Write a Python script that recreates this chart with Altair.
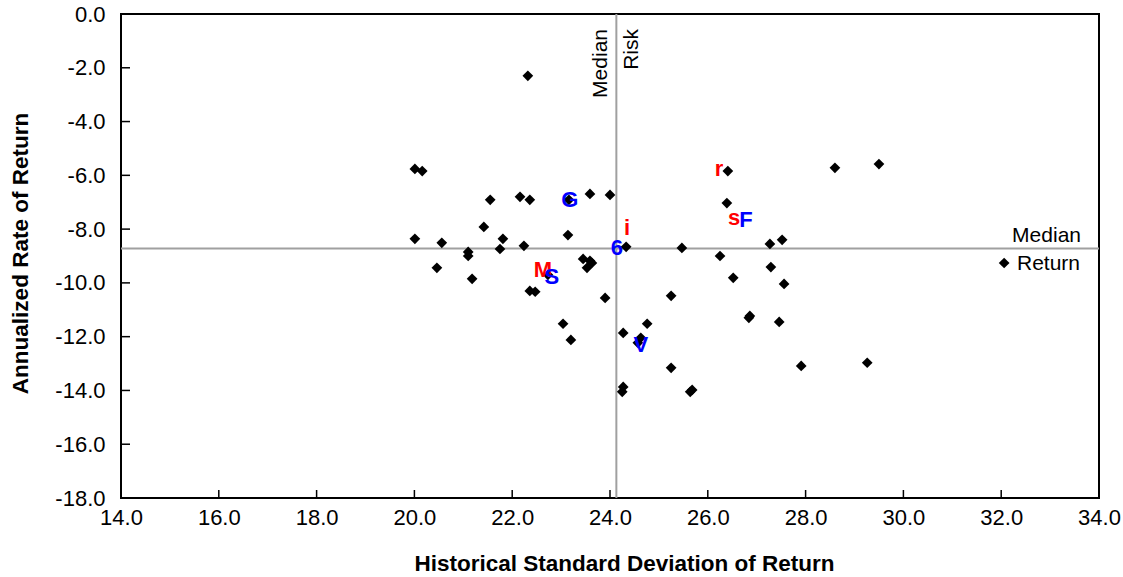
import altair as alt
import pandas as pd

# ---- data ----
risk = [22.32, 20.01, 20.16, 26.41, 28.60, 29.50, 23.16, 21.55, 22.16, 22.36,
        23.59, 24.00, 26.39, 21.42, 23.14, 20.01, 20.56, 21.81, 21.75, 21.10,
        21.10, 22.24, 24.33, 20.46, 21.18, 22.73, 22.36, 22.47, 23.45, 23.59,
        23.63, 23.53, 23.90, 23.04, 23.20, 24.27, 24.76, 24.63, 24.57, 25.25,
        24.27, 24.25, 25.68, 25.64, 25.47, 26.25, 26.52, 27.27, 27.52, 27.29,
        27.56, 25.25, 26.86, 26.84, 27.46, 27.91, 29.26, 32.06]
ret = [-2.30, -5.76, -5.84, -5.84, -5.72, -5.58, -6.91, -6.91, -6.80, -6.91,
       -6.69, -6.73, -7.03, -7.92, -8.22, -8.36, -8.51, -8.36, -8.74, -8.85,
       -9.00, -8.62, -8.66, -9.44, -9.85, -9.70, -10.30, -10.33, -9.11, -9.18,
       -9.26, -9.44, -10.56, -11.52, -12.12, -11.86, -11.52, -12.04, -12.23, -13.16,
       -13.87, -14.05, -13.98, -14.05, -8.70, -9.00, -9.81, -8.55, -8.40, -9.41,
       -10.04, -10.48, -11.23, -11.30, -11.45, -13.09, -12.97, -9.26]

label_text = ["r", "s", "F", "G", "i", "6", "M", "S", "V"]
label_risk = [26.23, 26.54, 26.78, 23.18, 24.35, 24.14, 22.63, 22.81, 24.63]
label_ret = [-5.76, -7.58, -7.66, -6.91, -7.96, -8.70, -9.52, -9.78, -12.30]
label_color = ["#FF0000", "#FF0000", "#0000FF", "#0000FF", "#FF0000",
               "#0000FF", "#FF0000", "#0000FF", "#0000FF"]

x_ticks = [14, 16, 18, 20, 22, 24, 26, 28, 30, 32, 34]
y_ticks = [0, -2, -4, -6, -8, -10, -12, -14, -16, -18]

median_risk = 24.13
median_return = -8.72

x_title = "Historical Standard Deviation of Return"
y_title = "Annualized Rate of Return"

# ---- layout ----
W, H = 978, 484
FONT = "Liberation Sans"
fmt = "(datum.value < 0 ? '-' : '') + format(abs(datum.value), '.1f')"

xs = alt.Scale(domain=[14, 34], nice=False, zero=False)
ys = alt.Scale(domain=[-18, 0], nice=False, zero=False)

x_axis = alt.Axis(title=x_title, values=x_ticks, labelExpr=fmt, ticks=False,
                  domain=False, grid=False, labelFontSize=22, labelPadding=9,
                  labelFlush=False, labelOverlap=False, labelBound=False,
                  labelColor="black", titleFontSize=22.5, titleFontWeight="bold",
                  titleColor="black", titleX=W / 2 + 14, titleY=65,
                  titleBaseline="middle")
y_axis = alt.Axis(title=y_title, values=y_ticks, labelExpr=fmt, ticks=False,
                  domain=False, grid=False, labelFontSize=22, labelPadding=16,
                  labelFlush=False, labelOverlap=False, labelBound=False,
                  labelColor="black", titleFontSize=22.5, titleFontWeight="bold",
                  titleColor="black", titleX=-101, titleY=H / 2 - 3,
                  titleAngle=270, titleBaseline="middle", titleAlign="center")

def X(field="risk"):
    return alt.X(f"{field}:Q", scale=xs, axis=x_axis)

def Y(field="ret"):
    return alt.Y(f"{field}:Q", scale=ys, axis=y_axis)

pts_df = pd.DataFrame({"risk": risk, "ret": ret})
lab_df = pd.DataFrame({"risk": label_risk, "ret": label_ret,
                       "txt": label_text, "col": label_color})
xt_df = pd.DataFrame({"risk": x_ticks})
yt_df = pd.DataFrame({"ret": y_ticks})
mr_df = pd.DataFrame({"risk": [median_risk]})
mret_df = pd.DataFrame({"ret": [median_return]})
mlab_df = pd.DataFrame({"risk": [34], "ret": [median_return]})
vlab_df = pd.DataFrame({"risk": [median_risk], "ret": [0]})

vline = alt.Chart(mr_df).mark_rule(color="#A0A0A0", strokeWidth=2).encode(x=X())
hline = alt.Chart(mret_df).mark_rule(color="#A0A0A0", strokeWidth=2).encode(y=Y())

xticks = alt.Chart(xt_df).mark_rule(color="black", strokeWidth=1.5).encode(
    x=X(), y=alt.value(H - 8), y2=alt.value(H))
yticks = alt.Chart(yt_df).mark_rule(color="black", strokeWidth=1.5).encode(
    y=Y(), x=alt.value(0), x2=alt.value(9))

points = alt.Chart(pts_df).mark_point(
    shape="diamond", filled=True, color="black", size=115, opacity=1
).encode(x=X(), y=Y())

labels = alt.Chart(lab_df).mark_text(
    font=FONT, fontSize=22, fontWeight="bold", align="center", baseline="middle"
).encode(x=X(), y=Y(), text="txt:N", color=alt.Color("col:N", scale=None))

med_top = alt.Chart(mlab_df).mark_text(
    font=FONT, fontSize=21, align="right", baseline="bottom", dx=-18, dy=-2,
    color="black").encode(x=X(), y=Y(), text=alt.value("Median"))
med_bot = alt.Chart(mlab_df).mark_text(
    font=FONT, fontSize=21, align="right", baseline="top", dx=-19, dy=5,
    color="black").encode(x=X(), y=Y(), text=alt.value("Return"))

risk_left = alt.Chart(vlab_df).mark_text(
    font=FONT, fontSize=21, angle=270, align="right", baseline="alphabetic",
    dx=-15, dy=-9, color="black").encode(x=X(), y=Y(), text=alt.value("Median"))
risk_right = alt.Chart(vlab_df).mark_text(
    font=FONT, fontSize=21, angle=270, align="right", baseline="top",
    dx=-15, dy=5, color="black").encode(x=X(), y=Y(), text=alt.value("Risk"))

chart = alt.layer(
    vline, hline, xticks, yticks, points, labels, med_top, med_bot,
    risk_left, risk_right
).properties(
    width=W, height=H,
    autosize=alt.AutoSizeParams(type="none"),
    padding={"left": 121, "top": 14, "right": 24, "bottom": 79},
    background="white",
).configure(
    font=FONT
).configure_view(
    stroke="black", strokeWidth=2
).configure_axis(
    labelFont=FONT, titleFont=FONT
)

chart.save("out.html", embed_options={"renderer": "svg", "actions": False})
